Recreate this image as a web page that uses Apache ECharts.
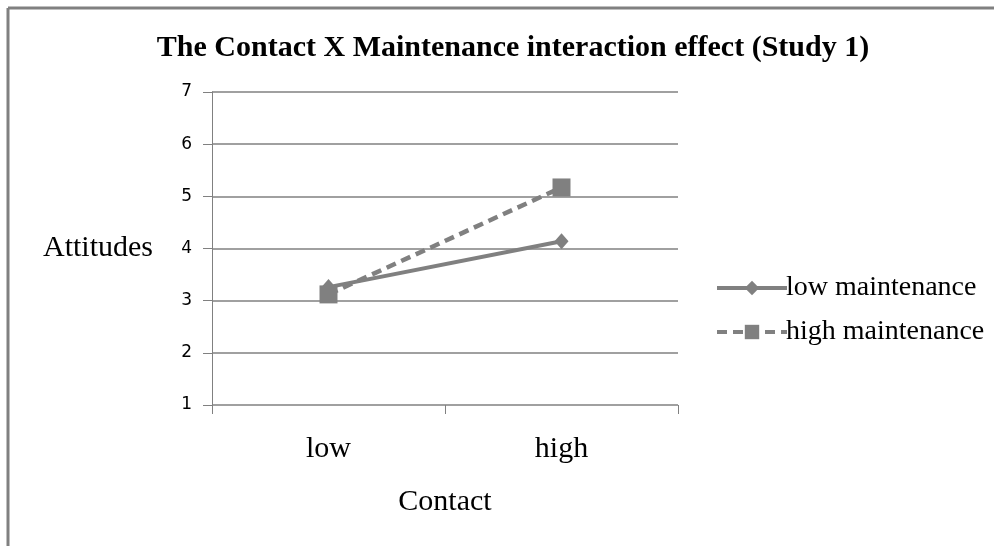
<!DOCTYPE html>
<html>
<head>
<meta charset="utf-8">
<script src="https://cdn.jsdelivr.net/npm/echarts@6/dist/echarts.min.js"></script>
<style>html,body{margin:0;padding:0;background:#fff}#c{width:994px;height:546px}</style>
</head>
<body>
<div id="c"></div>
<script>
var categories = ['low', 'high'];
var lowMaintenance = [3.26, 4.14];
var highMaintenance = [3.12, 5.17];
var yTicks = [1, 2, 3, 4, 5, 6, 7];

var chart = echarts.init(document.getElementById('c'), null, {renderer: 'canvas'});
var serif = '"Liberation Serif", "DejaVu Serif", serif';
var grey = '#808080';
chart.setOption({
  animation: false,
  backgroundColor: '#fff',
  title: {
    text: 'The Contact X Maintenance interaction effect (Study 1)',
    left: 508, top: 28, textAlign: 'center',
    textStyle: {fontFamily: serif, fontWeight: 'bold', fontSize: 30, color: '#000'}
  },
  legend: {
    orient: 'vertical', left: 710, top: 269, itemGap: 16,
    itemWidth: 70, itemHeight: 18,
    textStyle: {fontFamily: serif, fontSize: 28, color: '#000', padding: [0,0,0,-6]},
    lineStyle: {width: 4},
    data: ['low maintenance', 'high maintenance']
  },
  grid: {left: 212, right: 316, top: 92, bottom: 141},
  xAxis: {
    type: 'category', data: categories, boundaryGap: true,
    name: 'Contact', nameLocation: 'middle', nameGap: 82,
    nameTextStyle: {fontFamily: serif, fontSize: 30, color: '#000'},
    axisLine: {show: false},
    axisTick: {show: true, length: 9, lineStyle: {color: grey, width: 1}},
    axisLabel: {fontFamily: serif, fontSize: 30, color: '#000', margin: 29},
    splitLine: {show: false}
  },
  yAxis: {
    type: 'value', min: 1, max: 7, interval: 1,
    name: 'Attitudes', nameLocation: 'middle', nameRotate: 0, nameGap: 59,
    nameTextStyle: {fontFamily: serif, fontSize: 30, color: '#000'},
    axisLine: {show: true, lineStyle: {color: grey, width: 1}},
    axisTick: {show: true, length: 9, lineStyle: {color: grey, width: 1}},
    axisLabel: {fontFamily: '"DejaVu Sans", sans-serif', fontSize: 17, color: '#000', margin: 20,
      formatter: function (v) { return yTicks.indexOf(v) >= 0 ? String(v) : ''; }},
    splitLine: {show: true, lineStyle: {color: grey, width: 1.5}}
  },
  series: [
    {
      name: 'low maintenance', type: 'line', data: lowMaintenance,
      symbol: 'diamond', symbolSize: [14, 16],
      lineStyle: {color: grey, width: 4},
      itemStyle: {color: grey}
    },
    {
      name: 'high maintenance', type: 'line', data: highMaintenance,
      symbol: 'rect', symbolSize: 18,
      lineStyle: {color: grey, width: 4.5, type: [10, 6]},
      itemStyle: {color: grey}
    }
  ],
  graphic: [
    {type: 'line', shape: {x1: 8, y1: 8, x2: 994, y2: 8}, style: {stroke: grey, lineWidth: 3}},
    {type: 'line', shape: {x1: 8, y1: 8, x2: 8, y2: 546}, style: {stroke: grey, lineWidth: 3}}
  ]
});
</script>
</body>
</html>
